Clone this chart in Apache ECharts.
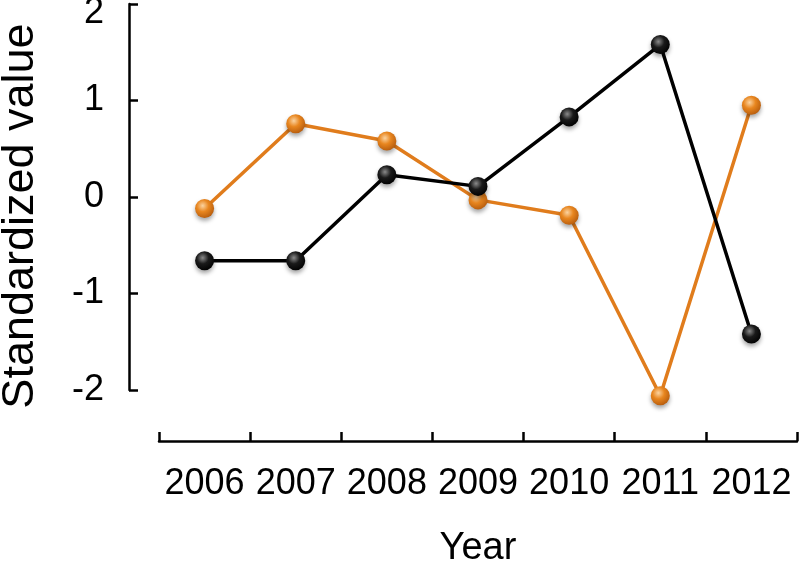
<!DOCTYPE html>
<html>
<head>
<meta charset="utf-8">
<script src="https://cdn.jsdelivr.net/npm/echarts@6/dist/echarts.min.js"></script>
<style>
html,body{margin:0;padding:0;background:#fff;}
#main{width:800px;height:563px;}
</style>
</head>
<body>
<div id="main"></div>
<script>
var years = ['2006','2007','2008','2009','2010','2011','2012'];
var orangeSeries = [-0.12, 0.76, 0.58, -0.03, -0.19, -2.06, 0.95];
var blackSeries = [-0.66, -0.66, 0.23, 0.11, 0.83, 1.58, -1.42];

var FONT = 'Liberation Sans, Arial, Helvetica, sans-serif';

function ball(c0, c1, c2) {
  return {
    type: 'radial', x: 0.4, y: 0.35, r: 0.7,
    colorStops: [
      {offset: 0, color: c0},
      {offset: 0.45, color: c1},
      {offset: 1, color: c2}
    ]
  };
}

var chart = echarts.init(document.getElementById('main'));
chart.setOption({
  animation: false,
  backgroundColor: '#ffffff',
  grid: {left: 159, right: 3, top: 4, bottom: 173, containLabel: false, outerBoundsMode: 'none'},
  xAxis: {
    type: 'category',
    data: years,
    boundaryGap: true,
    offset: 51,
    axisLine: {onZero: false, lineStyle: {color: '#000', width: 2.5}},
    axisTick: {show: true, inside: true, length: 9, alignWithLabel: false, interval: 0, lineStyle: {color: '#000', width: 2.5}},
    axisLabel: {color: '#000', fontSize: 36, fontFamily: FONT, margin: 25, interval: 0, hideOverlap: false},
    splitLine: {show: false},
    name: 'Year',
    nameLocation: 'middle',
    nameGap: 89,
    nameTextStyle: {color: '#000', fontSize: 38, fontFamily: FONT}
  },
  yAxis: {
    type: 'value',
    position: 'left',
    min: -2, max: 2, interval: 1,
    offset: 30,
    axisLine: {show: true, onZero: false, lineStyle: {color: '#000', width: 2.5}},
    axisTick: {show: true, inside: true, length: 9, lineStyle: {color: '#000', width: 2.5}},
    axisLabel: {
      color: '#000', fontSize: 36, fontFamily: FONT, margin: 25,
      formatter: function (v) { return v === 2 ? '{top|' + v + '}' : String(v); },
      rich: {top: {fontSize: 36, fontFamily: FONT, color: '#000', padding: [18, 0, 0, 0]}}
    },
    splitLine: {show: false},
    name: 'Standardized value',
    nameLocation: 'middle',
    nameGap: 86,
    nameTextStyle: {color: '#000', fontSize: 45, fontFamily: FONT, padding: [0, 38, 0, 0]}
  },
  series: [
    {
      name: 'Orange',
      type: 'line',
      data: orangeSeries,
      clip: false,
      symbol: 'circle',
      symbolSize: 19,
      lineStyle: {color: '#E07C1C', width: 3.5},
      itemStyle: {
        color: ball('#fbd3a0', '#e8861f', '#b45a0c'),
        shadowBlur: 4, shadowOffsetY: 3, shadowColor: 'rgba(0,0,0,0.35)'
      },
      z: 2
    },
    {
      name: 'Black',
      type: 'line',
      data: blackSeries,
      clip: false,
      symbol: 'circle',
      symbolSize: 19,
      lineStyle: {color: '#000', width: 3.5},
      itemStyle: {
        color: ball('#8a8a8a', '#1a1a1a', '#000000'),
        shadowBlur: 4, shadowOffsetY: 3, shadowColor: 'rgba(0,0,0,0.35)'
      },
      z: 3
    }
  ]
});
</script>
</body>
</html>
